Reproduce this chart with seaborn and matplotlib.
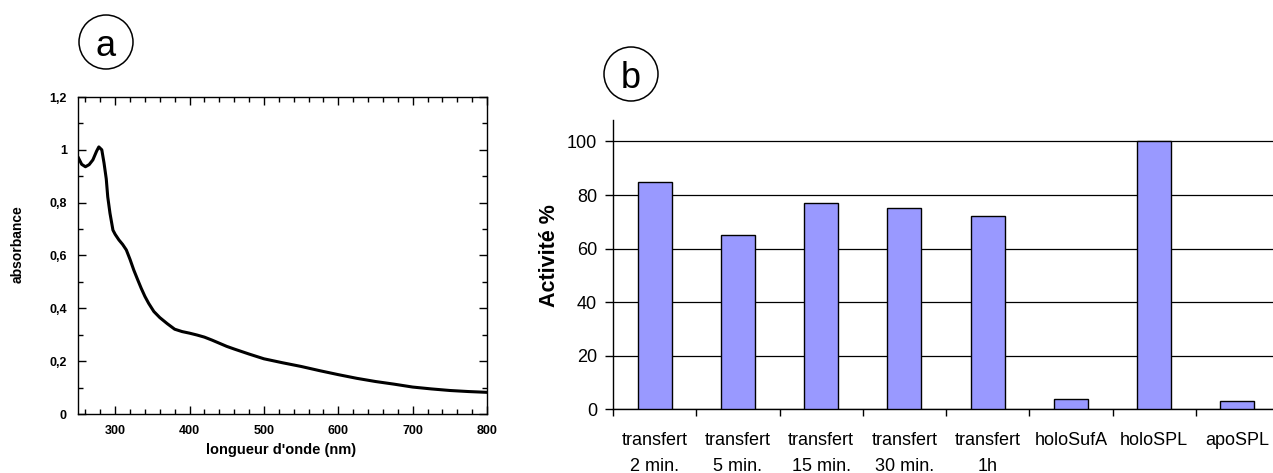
import numpy as np
import pandas as pd
import seaborn as sns
import matplotlib
from matplotlib import pyplot as plt
from matplotlib.patches import Ellipse
from matplotlib.ticker import MultipleLocator, FixedLocator

sns.set_style("ticks")
plt.rcParams['font.family'] = ['Liberation Sans', 'DejaVu Sans']
plt.rcParams.update({"text.color": "black", "axes.labelcolor": "black",
                     "xtick.color": "black", "ytick.color": "black"})

# panel a: absorption spectrum
wavelength = [250, 255, 260, 265, 270, 275, 278, 282, 285, 288, 290, 293, 297, 300, 305, 310, 315, 320,
              325, 330, 335, 340, 345, 352, 360, 370, 380, 390, 400, 410, 420, 430, 440, 450, 460,
              480, 500, 525, 550, 575, 600, 625, 650, 675, 700, 725, 750, 775, 800]
absorbance = [0.973, 0.945, 0.936, 0.944, 0.962, 0.995, 1.011, 1.0, 0.95, 0.89, 0.822, 0.76, 0.696, 0.68, 0.659,
              0.642, 0.621, 0.585, 0.545, 0.51, 0.476, 0.445, 0.419, 0.388, 0.365, 0.342, 0.321, 0.312, 0.306,
              0.299, 0.291, 0.28, 0.268, 0.256, 0.246, 0.227, 0.209, 0.194, 0.180, 0.164, 0.149, 0.135,
              0.123, 0.113, 0.102, 0.095, 0.089, 0.085, 0.082]
abs_ticks = [0, 0.2, 0.4, 0.6, 0.8, 1.0, 1.2]
abs_tick_labels = ["0", "0,2", "0,4", "0,6", "0,8", "1", "1,2"]

# panel b: activity
conditions = ["transfert\n2 min.", "transfert\n5 min.", "transfert\n15 min.", "transfert\n30 min.",
              "transfert\n1h", "holoSufA", "holoSPL", "apoSPL"]
activite = [85, 65, 77, 75, 72, 4, 100, 3]

W, H = 1273, 473
fig = plt.figure(figsize=(W / 100, H / 100), dpi=100)

# ---- panel a
ax1 = fig.add_axes([78 / W, 1 - 414 / H, (487 - 78) / W, (414 - 97) / H])
spec = pd.DataFrame({"wl": wavelength, "abs": absorbance})
sns.lineplot(data=spec, x="wl", y="abs", color="black", linewidth=2.2, ax=ax1)
ax1.set_xlim(250, 800)
ax1.set_ylim(0, 1.2)
ax1.xaxis.set_major_locator(FixedLocator([300, 400, 500, 600, 700, 800]))
ax1.xaxis.set_minor_locator(MultipleLocator(20))
ax1.set_yticks(abs_ticks)
ax1.set_yticklabels(abs_tick_labels)
ax1.yaxis.set_minor_locator(MultipleLocator(0.1))
ax1.tick_params(which="both", direction="in", top=True, right=True, width=1)
ax1.tick_params(which="major", length=6, labelsize=9, pad=8)
ax1.tick_params(which="minor", length=3.5)
for lab in ax1.get_xticklabels() + ax1.get_yticklabels():
    lab.set_fontweight("bold")
for s in ax1.spines.values():
    s.set_linewidth(1)
    s.set_color("black")
ax1.set_xlabel("longueur d'onde (nm)", fontsize=10.5, fontweight="bold", va="center")
ax1.xaxis.set_label_coords(0.496, -0.114)
ax1.set_ylabel("absorbance", fontsize=10, fontweight="bold", va="center")
ax1.yaxis.set_label_coords(-0.147, 0.535)

# ---- panel b
ax2 = fig.add_axes([613 / W, 1 - 409.3 / H, (1279 - 613) / W, (409.3 - 120) / H])
bars = pd.DataFrame({"cond": conditions, "act": activite})
sns.barplot(data=bars, x="cond", y="act", color="#9999FF", saturation=1, edgecolor="black",
            linewidth=1, width=0.41, ax=ax2, zorder=3)
ax2.set_xlim(-0.5, 7.5)
ax2.set_ylim(0, 108)
ax2.set_yticks([0, 20, 40, 60, 80, 100])
ax2.yaxis.grid(True, color="black", linewidth=0.9)
ax2.set_axisbelow(True)
ax2.xaxis.set_minor_locator(FixedLocator(np.arange(-0.5, 8, 1)))
ax2.tick_params(axis="x", which="major", length=0, labelsize=13, pad=16)
ax2.tick_params(axis="x", which="minor", length=5, width=1, direction="out")
ax2.tick_params(axis="y", length=5.5, width=1, labelsize=13, pad=6)
for lab in ax2.get_xticklabels():
    lab.set_linespacing(1.75)
sns.despine(ax=ax2, top=True, right=True)
ax2.spines["left"].set_color("black")
ax2.spines["bottom"].set_color("black")
ax2.spines["left"].set_linewidth(1)
ax2.spines["bottom"].set_linewidth(1)
ax2.set_xlabel("")
ax2.set_ylabel("Activité %", fontsize=15.5, fontweight="bold", va="center")
ax2.yaxis.set_label_coords(-0.0946, 0.53)

# ---- circled panel letters
for letter, cx, cy in [("a", 106, 42), ("b", 631, 74)]:
    fig.add_artist(Ellipse((cx / W, 1 - cy / H), 54 / W, 54 / H, transform=fig.transFigure,
                           fill=False, edgecolor="black", linewidth=1.1))
    fig.text(cx / W, 1 - cy / H, letter, fontsize=26, ha="center", va="center_baseline")

fig.savefig("out.png", dpi=100)
